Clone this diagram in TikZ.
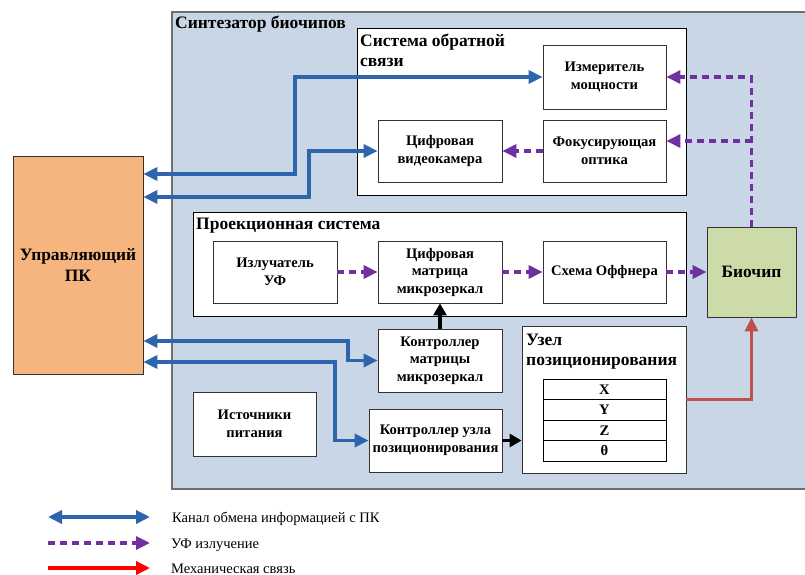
\documentclass[tikz,border=0pt]{standalone}
\usepackage{fontspec}
\setmainfont{Liberation Serif}
\usetikzlibrary{arrows.meta}
\definecolor{synthfill}{HTML}{C9D6E5}
\definecolor{pcfill}{HTML}{F6B57E}
\definecolor{chipfill}{HTML}{CCDBA8}
\definecolor{bluel}{HTML}{2E63AE}
\definecolor{purplel}{HTML}{7030A0}
\definecolor{redl}{HTML}{C0504D}
\definecolor{borderg}{HTML}{6E6E6E}
\tikzset{
  box/.style={draw=black!80, line width=0.8pt, fill=white, align=center, inner sep=2pt,
    font=\bfseries\fontsize{14.6}{17.5}\selectfont},
  group/.style={draw=black, line width=0.9pt, fill=white},
  heading/.style={font=\bfseries\fontsize{17.5}{20}\selectfont, inner sep=0pt, align=left},
  bluearr/.style={draw=bluel, line width=3.4pt, {Triangle[length=14pt,width=13pt]}-{Triangle[length=14pt,width=13pt]}},
  purparr/.style={draw=purplel, line width=3.2pt, dash pattern=on 7pt off 5pt, -{Triangle[length=14pt,width=13pt]}},
  redarr/.style={draw=redl, line width=3.4pt, -{Triangle[length=14pt,width=13pt]}},
  blackarr/.style={draw=black, line width=3.4pt, -{Triangle[length=12pt,width=13pt]}},
  legtext/.style={font=\fontsize{14.5}{17}\selectfont, anchor=base west, inner sep=0pt}
}
\begin{document}
\begin{tikzpicture}[x=1pt,y=-1pt]
\useasboundingbox (0,0) rectangle (805,575);
% outer synthesizer
\draw[fill=synthfill, draw=borderg, line width=1.5pt] (172,12) rectangle (808,489);
\node[heading, anchor=base west] (tsynth) at (175,29) {Синтезатор биочипов};
% feedback group
\draw[group] (357,28) rectangle (686,195);
\node[heading, anchor=base west] (tfb) at (360,47) {Система обратной};
\node[heading, anchor=base west] (tfb2) at (360,67) {связи};
% projection group
\draw[group] (193,212) rectangle (686,316);
\node[heading, anchor=base west] (tproj) at (196,229) {Проекционная система};
% nodes
\node[box, minimum width=123pt, minimum height=64pt] (meter) at (604.5,77) {Измеритель\\мощности};
\node[box, minimum width=123pt, minimum height=62pt] (optics) at (604.5,151) {Фокусирующая\\оптика};
\node[box, minimum width=124pt, minimum height=62pt] (cam) at (440,151) {Цифровая\\видеокамера};
\node[box, minimum width=124pt, minimum height=62pt] (uv) at (275,272) {Излучатель\\УФ};
\node[box, minimum width=124pt, minimum height=62pt] (dmd) at (440,272) {Цифровая\\матрица\\микрозеркал};
\node[box, minimum width=123pt, minimum height=62pt] (offner) at (604.5,272) {Схема Оффнера};
\node[box, fill=chipfill, minimum width=89pt, minimum height=90pt, font=\bfseries\fontsize{17.4}{20}\selectfont] (chip) at (751.5,272) {Биочип};
\node[box, minimum width=124pt, minimum height=63pt] (ctrlm) at (440,360.5) {Контроллер\\матрицы\\микрозеркал};
\node[box, minimum width=123pt, minimum height=64pt] (power) at (254.5,424) {Источники\\питания};
\node[box, minimum width=133pt, minimum height=63pt] (ctrlu) at (435.5,440.5) {Контроллер узла\\позиционирования};
\node[box, minimum width=164pt, minimum height=147pt] (pos) at (604,399.5) {};
\node[heading, anchor=base west] (tpos) at (526,345) {Узел};
\node[heading, anchor=base west] (tpos2) at (526,365) {позиционирования};
\node[box, draw=black, minimum width=123pt, minimum height=20.5pt, inner sep=0pt] (rx) at (604.5,389.25) {X};
\node[box, draw=black, minimum width=123pt, minimum height=20.5pt, inner sep=0pt] (ry) at (604.5,409.75) {Y};
\node[box, draw=black, minimum width=123pt, minimum height=20.5pt, inner sep=0pt] (rz) at (604.5,430.25) {Z};
\node[box, draw=black, minimum width=123pt, minimum height=20.5pt, inner sep=0pt] (rt) at (604.5,450.75) {θ};
\node[box, fill=pcfill, minimum width=130pt, minimum height=218pt, font=\bfseries\fontsize{17.4}{21}\selectfont] (pc) at (78,265) {Управляющий\\ПК};
% blue channels
\draw[bluearr] (meter.west) -| (295,174) -- (pc.east |- 0,174);
\draw[bluearr] (cam.west) -| (309,197) -- (pc.east |- 0,197);
\draw[bluearr] (ctrlm.west) -| (348,341) -- (pc.east |- 0,341);
\draw[bluearr] (ctrlu.west) -| (335,362) -- (pc.east |- 0,362);
% UV
\draw[purparr] (uv.east) -- (dmd.west);
\draw[purparr] (dmd.east) -- (offner.west);
\draw[purparr] (offner.east) -- (chip.west);
\draw[purparr] (optics.west) -- (cam.east);
\draw[purparr] (chip.north) |- (meter.east);
\draw[purparr] (chip.north |- 0,141) -- ([yshift=10pt]optics.east);
% black
\draw[blackarr] (ctrlm.north) -- (dmd.south);
\draw[blackarr] (ctrlu.east) -- (pos.west |- ctrlu.east);
% red
\draw[redarr] (pos.east) -| (chip.south);
% legend
\coordinate (l1a) at (48,517); \coordinate (l1b) at (150,517);
\coordinate (l2a) at (48,543); \coordinate (l2b) at (150,543);
\coordinate (l3a) at (48,568); \coordinate (l3b) at (150,568);
\draw[bluearr] (l1a) -- (l1b);
\draw[purparr] (l2a) -- (l2b);
\draw[redarr, draw=red] (l3a) -- (l3b);
\node[legtext] (t1) at (172,522) {Канал обмена информацией с ПК};
\node[legtext] (t2) at (171,548) {УФ излучение};
\node[legtext] (t3) at (171,573) {Механическая связь};
\end{tikzpicture}
\end{document}
